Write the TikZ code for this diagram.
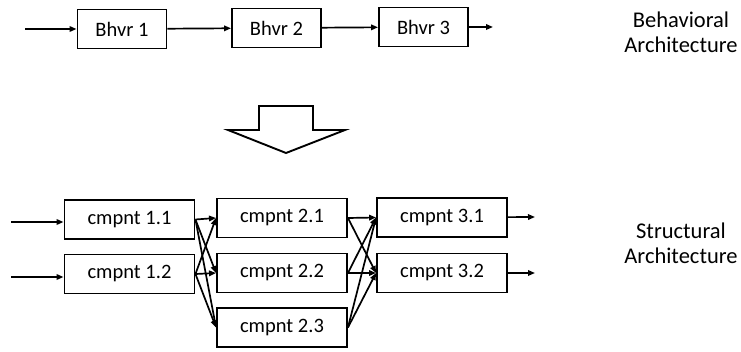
\documentclass[tikz,border=0pt]{standalone}
\usepackage{fontspec}
\setmainfont{Carlito}
\usetikzlibrary{positioning, calc, arrows.meta}

\begin{document}
\begin{tikzpicture}[x=1pt, y=-1pt,
    every node/.style={font=\fontsize{20.5}{24}\selectfont},
    blk/.style={draw, line width=1.9pt, inner sep=0pt, minimum height=39pt},
    bhvr/.style={blk, minimum width=89pt},
    cmp/.style={blk, minimum width=130pt},
    flow/.style={line width=1.7pt, -{Triangle[length=7pt, width=5.5pt]}},
    arch/.style={align=center, font=\fontsize{22.5}{25}\selectfont}]
    \useasboundingbox (0,0) rectangle (741,352);

    % behavioral row
    \node[bhvr] (b1) at (122,29) {Bhvr 1};
    \node[bhvr] (b2) at (276.5,28) {Bhvr 2};
    \node[bhvr] (b3) at (423.5,27) {Bhvr 3};
    \coordinate (bin) at (25,29);
    \coordinate (bout) at (493,27);

    \draw[flow] (bin) -- (b1);
    \draw[flow] (b1) -- (b2);
    \draw[flow] (b2) -- (b3);
    \draw[flow] (b3) -- (bout);

    \node[arch] (barch) at (681,32) {Behavioral\\Architecture};

    % big arrow down
    \draw[line width=1.9pt, fill=white]
        (259,106) -- (313,106) -- (313,130) -- (345,130) -- (286,153)
        -- (228,130) -- (259,130) -- cycle;

    % structural part
    \node[cmp] (c11) at (129.5,219.5) {cmpnt 1.1};
    \node[cmp] (c12) at (129.5,274) {cmpnt 1.2};
    \node[cmp] (c21) at (282,218) {cmpnt 2.1};
    \node[cmp] (c22) at (282,273) {cmpnt 2.2};
    \node[cmp] (c23) at (282,327.5) {cmpnt 2.3};
    \node[cmp] (c31) at (442,217.5) {cmpnt 3.1};
    \node[cmp] (c32) at (442,273) {cmpnt 3.2};

    \coordinate (in1) at (11,222);
    \coordinate (in2) at (11,277);
    \coordinate (out1) at (535,217);
    \coordinate (out2) at (535,273);

    \draw[flow] (in1) -- (in1 -| c11.west);
    \draw[flow] (in2) -- (in2 -| c12.west);
    \draw[flow] (c31) -- (out1);
    \draw[flow] (c32) -- (out2);

    \foreach \s in {c11,c12} {
        \foreach \t in {c21,c22,c23} {
            \draw[flow] (\s.east) -- (\t.west);
        }
    }
    \foreach \s in {c21,c22,c23} {
        \foreach \t in {c31,c32} {
            \draw[flow] (\s.east) -- (\t.west);
        }
    }

    \node[arch] (sarch) at (681,243) {Structural\\Architecture};
\end{tikzpicture}
\end{document}
